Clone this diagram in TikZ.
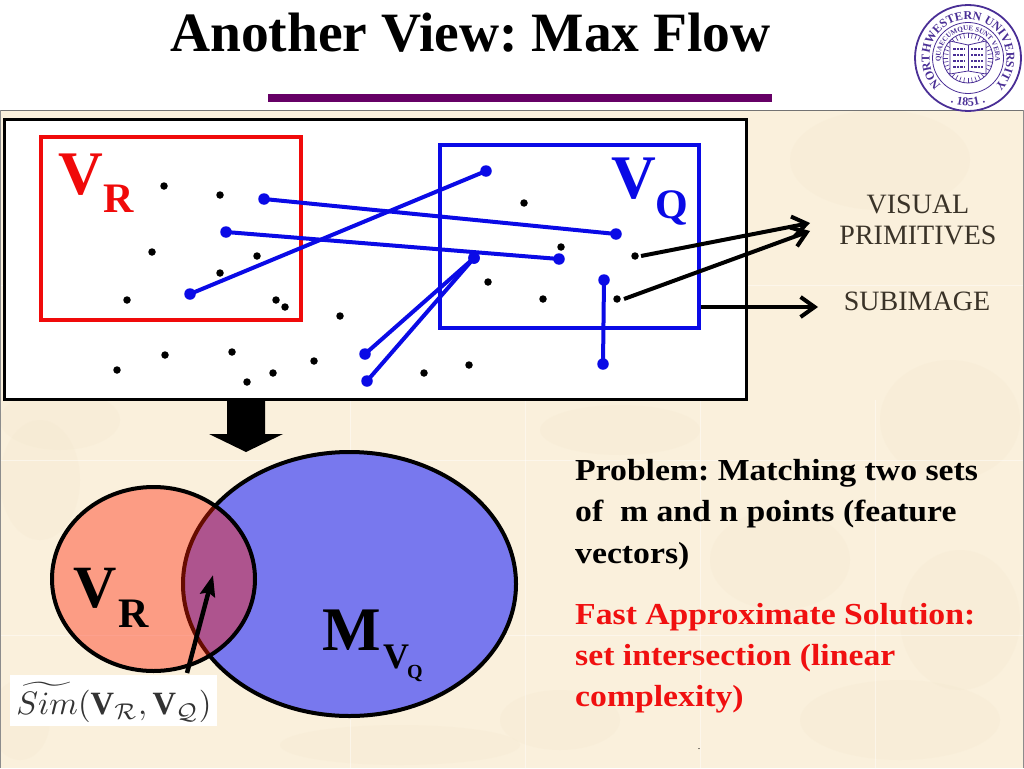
\documentclass[tikz,border=0pt]{standalone}
\usepackage{fontspec}
\setmainfont{Liberation Serif}
\newfontfamily\widebold[FakeStretch=1.105]{Liberation Serif Bold}
\usetikzlibrary{arrows.meta,decorations.text,shapes.geometric}
\definecolor{parch}{HTML}{FAF0DC}
\definecolor{parchd}{HTML}{F3E6CC}
\definecolor{ttl}{HTML}{660066}
\definecolor{seal}{HTML}{4A2F96}
\definecolor{vblue}{HTML}{7878EE}
\definecolor{vred}{HTML}{FF2000}
\definecolor{pure}{HTML}{0A0AE6}
\definecolor{rred}{HTML}{F00A0A}
\definecolor{labc}{HTML}{3A3328}
\definecolor{probred}{HTML}{F01010}
\tikzset{
  blackdot/.style={circle,fill=black,inner sep=0pt,minimum size=7.5pt},
  bluedot/.style={circle,fill=pure,inner sep=0pt,minimum size=11.5pt},
  bluelink/.style={draw=pure,line width=4pt,shorten <=-3pt,shorten >=-3pt},
  bigtxt/.style={font=\bfseries\fontsize{#1}{#1}\selectfont,anchor=base west,inner sep=0pt},
  bodytxt/.style={font=\widebold\fontsize{30.5}{32}\selectfont,anchor=base west,inner sep=0pt},
  barb/.style={draw=black,line width=4pt,-{Straight Barb[length=14pt,width=20pt,line width=4pt]}},
  sideword/.style={font=\fontsize{28}{28}\selectfont,text=labc,inner sep=0pt,anchor=base},
  sealring/.style={circle,draw=seal,inner sep=0pt},
  tile/.style={draw=white,opacity=.45,line width=1pt}
}
\frenchspacing
\begin{document}
\frenchspacing
\begin{tikzpicture}[x=1pt,y=-1pt]
\useasboundingbox (0,0) rectangle (1024,768);
\fill[white] (0,0) rectangle (1024,768);
% parchment
\fill[parch] (0,110) rectangle (1024,768);
\foreach \cx/\cy/\rx/\ry in {60/420/60/30,880/160/90/50,950/420/70/60,620/430/80/25,40/480/40/60,400/745/120/20,900/720/100/40,560/720/60/30,780/560/70/50,960/620/60/70,20/720/30/40}{
  \fill[parchd,opacity=.22] (\cx,\cy) ellipse [x radius=\rx,y radius=\ry];
}
\foreach \x in {350,525,700,875}{\draw[tile] (\x,400) -- (\x,768);}
\foreach \y in {285,460,635}{\draw[tile] (0,\y) -- (1024,\y);}
\draw[draw=black!55,line width=1.2pt] (0,110.5) -- (1024,110.5);
\draw[draw=black!45,line width=1pt] (.5,110) -- (.5,768);
\draw[draw=black!45,line width=1pt] (1023.5,110) -- (1023.5,768);
% title
\node[bigtxt=55.5] (title) at (170,52) {Another View: Max Flow};
\fill[ttl] (268,94) rectangle (772,102);
% seal
\begin{scope}[shift={(968,58)},x=1pt,y=1pt]
  \node[sealring,line width=1.8pt,minimum size=106pt] (sealA) at (0,0) {};
  \node[sealring,line width=.8pt,minimum size=71pt] (sealC) at (0,0) {};
  \node[sealring,line width=.8pt,minimum size=50pt] (sealD) at (0,0) {};
  \foreach \a in {0,10,...,350}{\draw[seal,line width=.6pt] (\a:20) -- (\a:25);}
  \path[decoration={text along path,text align=center,text={|\color{seal}\bfseries\fontsize{12}{12}\selectfont|NORTHWESTERN UNIVERSITY}},decorate]
     (232:38.5) arc[start angle=232,end angle=-52,radius=38.5];
  \path[decoration={text along path,text align=center,text={|\color{seal}\bfseries\fontsize{7}{7}\selectfont|QUAECUMQUE  SUNT  VERA}},decorate]
     (225:27.5) arc[start angle=225,end angle=-45,radius=27.5];
  \path[decoration={text along path,text align=center,text={|\color{seal}\bfseries\fontsize{12}{12}\selectfont|.  1851  .}},decorate]
     (235:48) arc[start angle=235,end angle=305,radius=48];
  \filldraw[fill=white,draw=seal,line width=.8pt] (-18,17) -- (0,13) -- (18,17) -- (18,-16) -- (0,-13) -- (-18,-16) -- cycle;
  \draw[seal,line width=.9pt] (0,13) -- (0,-13);
  \foreach \y in {9,3,-3,-9}{
    \draw[seal,line width=1.2pt,dash pattern=on 3pt off 1pt on 2pt off 1pt] (-15,\y) -- (-3,\y);
    \draw[seal,line width=1.2pt,dash pattern=on 2pt off 1pt on 3pt off 1pt] (3,\y) -- (15,\y);
  }
\end{scope}
% panel
\node[draw=black,fill=white,line width=3pt,minimum width=742pt,minimum height=280pt,inner sep=0pt] (panel) at (375,259) {};
\node[draw=rred,line width=4pt,minimum width=260pt,minimum height=183pt,inner sep=0pt] (vr) at (171,228.5) {};
\node[draw=pure,line width=4pt,minimum width=259pt,minimum height=183pt,inner sep=0pt] (vq) at (569.5,236.5) {};
\node[bigtxt=62,text=rred] (vrV) at (58,194) {V};
\node[bigtxt=42,text=rred] (vrR) at (103,212) {R};
\node[bigtxt=62,text=pure] (vqV) at (611,198) {V};
\node[bigtxt=42,text=pure] (vqQ) at (655,218) {Q};
% dots
\foreach \n/\x/\y in {1/164/186,2/220/195,3/152/252,4/257/256,5/220/273,6/127/300,7/276/300,8/285/307,9/340/316,10/165/355,11/232/352,12/117/370,13/314/361,14/273/373,15/247/382,16/524/203,17/561/247,18/635/256,19/488/282,20/543/299,21/617/299,22/469/365,23/424/373}{
  \node[blackdot] (d\n) at (\x,\y) {};
}
% blue links
\foreach \n/\ax/\ay/\bx/\by in {1/264/199/616/234,2/226/232/559/259,3/190/294/486/171,4/365/354/474/258,5/367/381/474/258,6/604/280/603/364}{
  \node[bluedot] (la\n) at (\ax,\ay) {};
  \node[bluedot] (lb\n) at (\bx,\by) {};
  \draw[bluelink] (la\n) -- (lb\n);
}
% arrows right
\coordinate (t1) at (810,223);
\coordinate (t2) at (810,231);
\coordinate (t3) at (818,307);
\coordinate (s1) at (641,256);
\coordinate (s2) at (624,299);
\coordinate (s3) at (701,307);
\draw[barb] (s1) -- (t1);
\draw[barb] (s2) -- (t2);
\draw[barb] (s3) -- (t3);
\node[sideword] (w1) at (918,213) {VISUAL};
\node[sideword] (w2) at (918,244) {PRIMITIVES};
\node[sideword] (w3) at (917,310) {SUBIMAGE};
% block arrow
\fill[black] (227,399) -- (265,399) -- (265,434) -- (283,434) -- (246,452) -- (209,434) -- (227,434) -- cycle;
% sets
\node[ellipse,draw=black,line width=4pt,fill=vblue,minimum width=333pt,minimum height=264pt,inner sep=0pt] (mvq) at (349.5,584) {};
\node[ellipse,draw=black,line width=4pt,fill=vred,fill opacity=.4,minimum width=203pt,minimum height=184pt,inner sep=0pt] (rset) at (153.5,579) {};
\node[bigtxt=60] (lowV) at (73,607) {V};
\node[bigtxt=42] (lowR) at (118,627) {R};
\node[bigtxt=62] (lowM) at (322,650) {M};
\node[bigtxt=36] (lowMV) at (383,668) {V};
\node[bigtxt=20] (lowMQ) at (407,678) {Q};
% similarity label
\node[fill=white,minimum width=207pt,minimum height=51pt,inner sep=0pt,anchor=north west] (simbox) at (10,675) {};
\node[inner sep=0pt,text=black!80] (simtxt) at (114,702) {\scalebox{3.25}{$\widetilde{Sim}(\mathbf{V}_{\mathcal{R}},\mathbf{V}_{\mathcal{Q}})$}};
\coordinate (simtop) at (187,673);
\coordinate (simtip) at (213,575);
\draw[black,line width=4.5pt,-{Stealth[length=21pt,width=15pt,inset=3pt]}] (simtop) -- (simtip);
% body text
\node[bodytxt] (p1) at (575,480) {Problem: Matching two sets};
\node[bodytxt] (p2) at (575,521) {of\ \ m and n points (feature};
\node[bodytxt] (p3) at (575,563) {vectors)};
\node[bodytxt,text=probred] (q1) at (575,624) {Fast Approximate Solution:};
\node[bodytxt,text=probred] (q2) at (575,665) {set intersection (linear};
\node[bodytxt,text=probred] (q3) at (575,706) {complexity)};
\node[font=\fontsize{10}{10}\selectfont,inner sep=0pt,anchor=base] (tinydot) at (699,749) {.};
\end{tikzpicture}
\end{document}
